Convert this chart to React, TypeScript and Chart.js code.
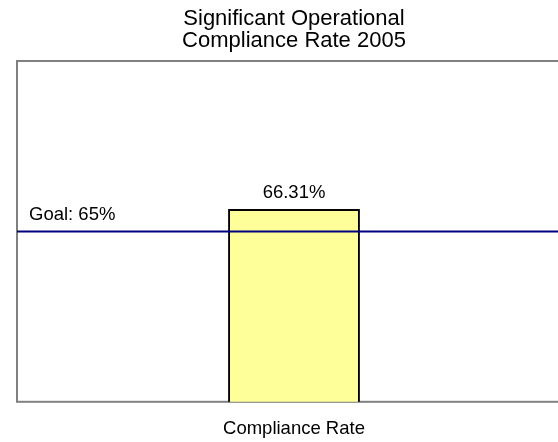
import React, { useEffect, useRef } from "react";
import { Chart, registerables } from "chart.js";

Chart.register(...registerables);

const categories = ["Compliance Rate"];
const rates = [66.31];
const goalValue = 65;
const goalLabel = "Goal: 65%";
const titleLines = ["Significant Operational", "Compliance Rate 2005"];
const yMin = 55;
const yMax = 75;

const FONT = "'Liberation Sans', Arial, sans-serif";

const overlayPlugin = {
  id: "overlay",
  beforeDatasetsDraw(chart: any) {
    const { ctx, chartArea } = chart;
    ctx.save();
    ctx.strokeStyle = "#808080";
    ctx.lineWidth = 2;
    ctx.strokeRect(chartArea.left, chartArea.top, chartArea.right - chartArea.left, chartArea.bottom - chartArea.top);
    ctx.restore();
  },
  afterDatasetsDraw(chart: any) {
    const { ctx, chartArea, scales } = chart;
    const y = scales.y.getPixelForValue(goalValue);
    ctx.save();
    ctx.strokeStyle = "#000080";
    ctx.lineWidth = 2;
    ctx.beginPath();
    ctx.moveTo(chartArea.left, y);
    ctx.lineTo(chartArea.right, y);
    ctx.stroke();
    ctx.fillStyle = "#000";
    ctx.font = `18.5px ${FONT}`;
    ctx.textBaseline = "middle";
    ctx.textAlign = "left";
    ctx.fillText(goalLabel, chartArea.left + 12, y - 16);
    const meta = chart.getDatasetMeta(0);
    meta.data.forEach((bar: any, i: number) => {
      ctx.textAlign = "center";
      ctx.fillText(rates[i].toFixed(2) + "%", bar.x, bar.y - 16);
    });
    ctx.restore();
  },
};

export default function App() {
  const ref = useRef<HTMLCanvasElement>(null);
  useEffect(() => {
    if (!ref.current) return;
    const chart = new Chart(ref.current, {
      type: "bar",
      data: {
        labels: categories,
        datasets: [
          {
            data: rates,
            backgroundColor: "#FFFF99",
            borderColor: "#000000",
            borderWidth: 2,
            borderSkipped: false,
            barPercentage: 0.238,
            categoryPercentage: 1,
          },
        ],
      },
      options: {
        responsive: false,
        animation: false,
        layout: { padding: { left: 17, right: 33, top: 0, bottom: -6 } },
        plugins: {
          legend: { display: false },
          tooltip: { enabled: false },
          title: {
            display: true,
            text: titleLines,
            color: "#000",
            font: { family: FONT, size: 22, weight: "normal", lineHeight: 1.0 },
            padding: { top: 8, bottom: 9 },
          },
        },
        scales: {
          x: {
            offset: true,
            grid: { display: false },
            border: { display: false },
            ticks: { color: "#000", font: { family: FONT, size: 18.5 }, padding: 8 },
          },
          y: {
            display: false,
            min: yMin,
            max: yMax,
          },
        },
      },
      plugins: [overlayPlugin],
    });
    return () => chart.destroy();
  }, []);
  return (
    <div style={{ position: "fixed", left: 0, top: 0, width: 604, height: 442, background: "#fff" }}>
      <canvas ref={ref} width={604} height={442} style={{ width: 604, height: 442 }} />
    </div>
  );
}
